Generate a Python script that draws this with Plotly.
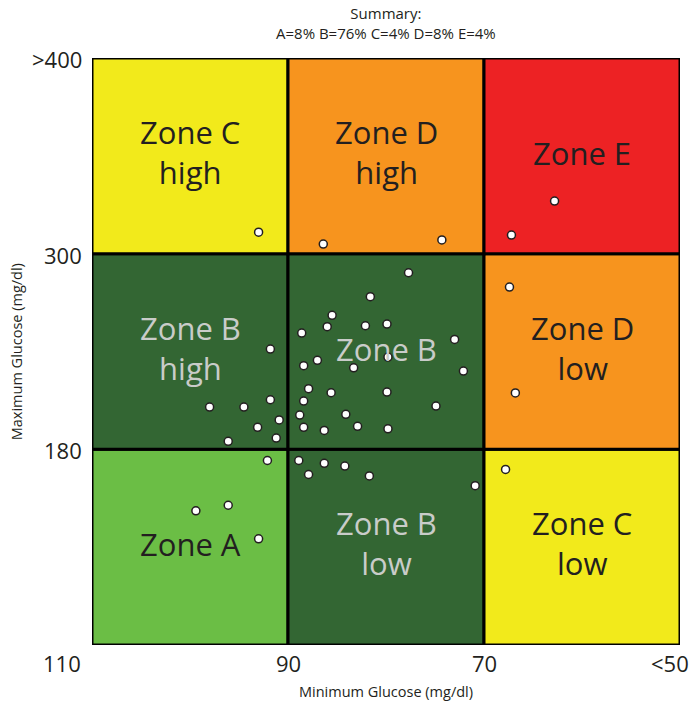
import numpy as np
import plotly.graph_objects as go

# Glucose readings (mg/dl): minimum and maximum per day
min_glucose = [
    99.4, 96.1, 93.0, 92.1,                      # A
    88.9, 86.3, 84.2, 87.9, 81.7, 70.9,          # B low
    91.8, 91.8, 98.0, 94.5, 90.9, 93.1, 91.2, 96.1,  # B high
    77.7, 81.6, 85.5, 86.0, 88.6, 82.1, 79.9, 73.0,
    79.8, 88.4, 87.0, 83.3, 72.1, 87.9, 85.6, 79.9,
    88.4, 74.9, 88.8, 84.1, 88.4, 86.3, 82.9, 79.8,  # B
    93.0, 67.8,                                  # C
    86.4, 74.3, 67.4, 66.8,                      # D
    62.8, 67.2,                                  # E
]
max_glucose = [
    158, 160, 148, 176,
    176, 175, 174, 171, 170.5, 167,
    241.5, 210.4, 205.9, 205.9, 198.0, 193.5, 186.9, 184.9,
    288.3, 273.6, 262.2, 255.2, 251.3, 255.8, 256.8, 247.4,
    236.6, 231.3, 234.6, 230.0, 228.0, 217.2, 214.7, 215.1,
    209.6, 206.5, 201.0, 201.5, 193.5, 191.6, 194.1, 192.6,
    311, 172.8,
    304.9, 307.0, 279.5, 214.6,
    326.9, 309.5,
]

# Zone boundaries
x_edges = [110, 90, 70, 50]          # minimum glucose
y_edges = [110, 180, 300, 400]       # maximum glucose (equal-height bands)
x_tick_text = ["110", "90", "70", "<50"]
y_tick_text = ["180", "300", ">400"]

# Zone grid, rows from bottom to top, columns left to right
zone_names = [
    ["Zone A", "Zone B<br>low", "Zone C<br>low"],
    ["Zone B<br>high", "Zone B", "Zone D<br>low"],
    ["Zone C<br>high", "Zone D<br>high", "Zone E"],
]
zone_colors = [
    ["#6BBE45", "#336633", "#F2EA1B"],
    ["#336633", "#336633", "#F7941E"],
    ["#F2EA1B", "#F7941E", "#ED2224"],
]
zone_text_colors = [
    ["#231F20", "#C9CCC9", "#231F20"],
    ["#C9CCC9", "#C9CCC9", "#231F20"],
    ["#231F20", "#231F20", "#231F20"],
]
summary = "Summary:<br>A=8% B=76% C=4% D=8% E=4%"

FONT = "Open Sans"

# Maximum glucose uses piecewise bands, each drawn the same height
y_idx = np.interp(max_glucose, y_edges, [0, 1, 2, 3])

fig = go.Figure()

shapes = []
annotations = []
for r in range(3):
    for c in range(3):
        shapes.append(dict(
            type="rect", xref="x", yref="y",
            x0=x_edges[c], x1=x_edges[c + 1], y0=r, y1=r + 1,
            fillcolor=zone_colors[r][c],
            line=dict(color="#000000", width=3),
            layer="below",
        ))
        two_lines = "<br>" in zone_names[r][c]
        annotations.append(dict(
            x=(x_edges[c] + x_edges[c + 1]) / 2, y=r + 0.5,
            xref="x", yref="y", text=zone_names[r][c], showarrow=False,
            yshift=4 if two_lines else 3,
            font=dict(family=FONT, size=31, color=zone_text_colors[r][c]),
            align="center",
        ))

fig.add_trace(go.Scatter(
    x=min_glucose, y=y_idx, mode="markers",
    marker=dict(size=8, color="#FFFFFF", line=dict(color="#231F20", width=1.5)),
    hoverinfo="skip", showlegend=False,
))

# Axis tick labels
for i, t in enumerate(x_tick_text):
    xanchor, xshift = "center", 0
    if i == 0:
        xanchor, xshift = "right", -9
    elif i == len(x_tick_text) - 1:
        xanchor, xshift = "right", 11
    annotations.append(dict(
        x=x_edges[i], y=0, xref="x", yref="paper", yanchor="top", yshift=-1,
        xanchor=xanchor, xshift=xshift, text=t, showarrow=False,
        font=dict(family=FONT, size=22, color="#231F20"),
    ))
for i, t in enumerate(y_tick_text):
    annotations.append(dict(
        x=0, y=i + 1, xref="paper", yref="y", xanchor="right", xshift=-8,
        yanchor="middle", yshift=-1, text=t, showarrow=False,
        font=dict(family=FONT, size=22, color="#231F20"),
    ))

# Axis titles and summary
annotations.append(dict(
    x=0.5, y=-0.08, xref="paper", yref="paper", yanchor="middle",
    text="Minimum Glucose (mg/dl)", showarrow=False,
    font=dict(family=FONT, size=14.5, color="#231F20"),
))
annotations.append(dict(
    x=-0.128, y=0.5, xref="paper", yref="paper", xanchor="center",
    text="Maximum Glucose (mg/dl)", showarrow=False, textangle=-90,
    font=dict(family=FONT, size=14.5, color="#231F20"),
))
annotations.append(dict(
    x=0.5, y=1.0, xref="paper", yref="paper", yanchor="bottom", yshift=13,
    text=summary, showarrow=False,
    font=dict(family=FONT, size=15, color="#231F20"),
))

fig.update_layout(
    width=695, height=707,
    margin=dict(l=92, r=15, t=58, b=62),
    paper_bgcolor="#FFFFFF", plot_bgcolor="#FFFFFF",
    shapes=shapes, annotations=annotations,
    xaxis=dict(range=[110, 50], showgrid=False, zeroline=False,
               showticklabels=False, ticks=""),
    yaxis=dict(range=[0, 3], showgrid=False, zeroline=False,
               showticklabels=False, ticks=""),
    font=dict(family=FONT),
)

fig.write_html("out.html")
